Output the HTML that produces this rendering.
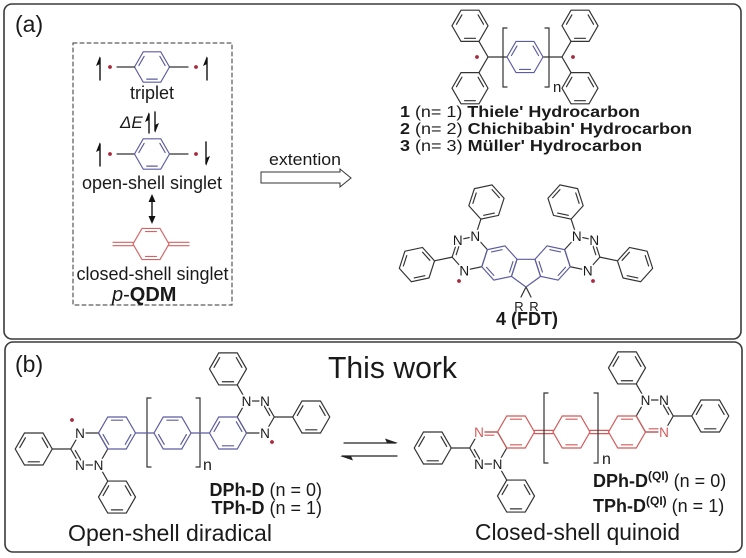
<!DOCTYPE html>
<html><head><meta charset="utf-8">
<style>
html,body{margin:0;padding:0;background:#fff}
svg{display:block}
text{font-family:"Liberation Sans",Arial,sans-serif;fill:#1a1a1a;stroke:none}
.N{font-size:13.5px;text-anchor:middle;stroke:#fff;stroke-width:3.5px;paint-order:stroke;stroke-linejoin:round}
.R{font-size:13px;text-anchor:middle;stroke:#fff;stroke-width:3px;paint-order:stroke;stroke-linejoin:round}
</style></head>
<body>
<svg width="746" height="558" viewBox="0 0 746 558" xmlns="http://www.w3.org/2000/svg">
<defs>
 <path id="hx" d="M18.5,0 L9.25,16.02 L-9.25,16.02 L-18.5,0 L-9.25,-16.02 L9.25,-16.02 Z"/>
 <path id="kA" d="M5.6,12.82 L-5.6,12.82 M-13.91,-1.54 L-8.29,-11.28 M8.29,-11.28 L13.91,-1.54"/>
 <path id="kB" d="M-5.6,-12.82 L5.6,-12.82 M13.91,1.54 L8.29,11.28 M-8.29,11.28 L-13.91,1.54"/>
 <path id="kQ" d="M-5.6,-12.82 L5.6,-12.82 M5.6,12.82 L-5.6,12.82"/>
 <g id="phA"><use href="#hx"/><use href="#kA"/></g>
 <g id="phB"><use href="#hx"/><use href="#kB"/></g>
 <g id="phQ"><use href="#hx"/><use href="#kQ"/></g>
 <g id="fh">
  <g transform="translate(469.75,253.37) rotate(-12) scale(0.973)" stroke="#333"><use href="#hx"/><path d="M-13.91,-1.54 L-8.29,-11.28"/></g>
  <use href="#phB" transform="translate(499.4,263) rotate(-12) scale(0.973)" stroke="#5c5ca0"/>
  <g stroke="#333">
   <line x1="475.31" y1="236.25" x2="480.87" y2="219.13"/>
   <use href="#phA" transform="translate(486.43,202.01) rotate(-12) scale(0.973)"/>
   <line x1="452.15" y1="257.11" x2="434.55" y2="260.85"/>
   <use href="#phA" transform="translate(416.94,264.6) rotate(-12) scale(0.973)"/>
   <line x1="526" y1="287" x2="521" y2="297"/>
  </g>
  <circle cx="459" cy="281" r="1.9" fill="#a8283c" stroke="none"/>
 </g>
</defs>

<g fill="none" stroke-width="1.2" stroke-linecap="round">

<!-- Panels -->
<rect x="4" y="4" width="737" height="335" rx="8" stroke="#3a3a3a" stroke-width="1.6"/>
<rect x="5" y="342" width="737" height="210" rx="8" stroke="#3a3a3a" stroke-width="1.6"/>

<!-- (a) dashed box -->
<rect x="73" y="43" width="159" height="262" stroke="#333" stroke-width="1" stroke-dasharray="4 3"/>

<!-- triplet / open-shell -->
<use href="#phA" transform="translate(152,67) scale(0.946)" stroke="#5c5ca0"/>
<g stroke="#333">
 <line x1="134.5" y1="67" x2="117" y2="67"/>
 <line x1="169.5" y1="67" x2="188" y2="67"/>
 <line x1="134.5" y1="154" x2="117" y2="154"/>
 <line x1="169.5" y1="154" x2="188" y2="154"/>
</g>
<use href="#phA" transform="translate(152,154) scale(0.946)" stroke="#5c5ca0"/>
<g fill="#a8283c" stroke="none">
 <circle cx="110" cy="67" r="1.9"/><circle cx="196" cy="67" r="1.9"/>
 <circle cx="110" cy="154" r="1.9"/><circle cx="196" cy="154" r="1.9"/>
</g>
<!-- spin arrows -->
<g stroke="#111" stroke-width="1.4">
 <line x1="100" y1="80" x2="100" y2="58"/>
 <line x1="207" y1="80" x2="207" y2="58"/>
 <line x1="149" y1="133" x2="149" y2="114"/>
 <line x1="155" y1="112" x2="155" y2="131"/>
 <line x1="100" y1="166" x2="100" y2="144"/>
 <line x1="206" y1="142" x2="206" y2="164"/>
 <line x1="152" y1="199" x2="152" y2="219"/>
</g>
<g fill="#111" stroke="none">
 <polygon points="100,56 96,66 100,64"/>
 <polygon points="207,56 203,66 207,64"/>
 <polygon points="149,112 145,122 149,120"/>
 <polygon points="155,133 159,123 155,125"/>
 <polygon points="100,142 96,152 100,150"/>
 <polygon points="206,166 210,156 206,158"/>
 <polygon points="152,194 148.5,202 155.5,202"/>
 <polygon points="152,224 148.5,216 155.5,216"/>
</g>
<!-- p-QDM -->
<use href="#phQ" transform="translate(151,244) scale(0.973)" stroke="#d46464"/>
<g stroke="#d46464">
 <line x1="133" y1="242.3" x2="113" y2="242.3"/><line x1="133" y1="245.7" x2="113" y2="245.7"/>
 <line x1="169" y1="242.3" x2="189" y2="242.3"/><line x1="169" y1="245.7" x2="189" y2="245.7"/>
</g>

<!-- extension arrow -->
<polygon points="261,172 340,172 340,169 351,178 340,187 340,183 261,183" stroke="#333" stroke-width="1" fill="#fff"/>

<!-- Thiele hydrocarbon -->
<g stroke="#333">
 <use href="#phA" transform="translate(470,25.8) scale(0.973)"/>
 <use href="#phA" transform="translate(470,88.2) scale(0.973)"/>
 <use href="#phA" transform="translate(580,25.8) scale(0.973)"/>
 <use href="#phA" transform="translate(580,88.2) scale(0.973)"/>
 <polyline points="479,41.4 488,57 479,72.6"/>
 <line x1="488" y1="57" x2="507" y2="57"/>
 <line x1="543" y1="57" x2="562" y2="57"/>
 <polyline points="571,41.4 562,57 571,72.6"/>
 <path d="M507,28 L503,28 L503,87 L507,87"/>
 <path d="M545,28 L549,28 L549,87 L545,87"/>
</g>
<use href="#phA" transform="translate(525,57) scale(0.973)" stroke="#5c5ca0"/>
<circle cx="477" cy="57" r="1.9" fill="#a8283c" stroke="none"/>
<circle cx="573" cy="57" r="1.9" fill="#a8283c" stroke="none"/>

<!-- FDT -->
<use href="#fh"/>
<use href="#fh" transform="translate(1052,0) scale(-1,1)"/>
<polygon points="517,259.3 535,259.3 540.56,276.38 526,286.96 511.44,276.38" stroke="#5c5ca0"/>

<!-- (b) left molecule -->
<g stroke="#333">
 <use href="#phA" transform="translate(33.75,449)"/>
 <line x1="52.25" y1="449" x2="70.75" y2="449"/>
 <g transform="translate(89.25,449)"><use href="#hx"/><path d="M-8.29,11.28 L-13.91,1.54"/></g>
 <g transform="translate(255.75,417)"><use href="#hx"/><path d="M8.29,-11.28 L13.91,-1.54"/></g>
 <line x1="246.5" y1="401" x2="237.25" y2="384.94"/>
 <use href="#phA" transform="translate(228,368.9)"/>
 <line x1="274.25" y1="417" x2="292.75" y2="417"/>
 <use href="#phA" transform="translate(311.25,417)"/>
 <line x1="98.5" y1="465" x2="107.75" y2="481.04"/>
 <use href="#phA" transform="translate(117,497.06)"/>
 <path d="M151,398 L147,398 L147,467 L151,467"/>
 <path d="M196,398 L200,398 L200,467 L196,467"/>
</g>
<g stroke="#5c5ca0">
 <use href="#phB" transform="translate(117,433)"/>
 <line x1="135.5" y1="433" x2="154" y2="433"/>
 <use href="#phB" transform="translate(172.5,433)"/>
 <line x1="191" y1="433" x2="209.5" y2="433"/>
 <use href="#phA" transform="translate(228,433)"/>
</g>
<circle cx="72" cy="420" r="1.9" fill="#a8283c" stroke="none"/>
<circle cx="272" cy="442" r="1.9" fill="#a8283c" stroke="none"/>

<!-- equilibrium arrows -->
<g stroke="#222" stroke-width="1.2">
 <line x1="344" y1="443" x2="396" y2="443"/>
 <line x1="342" y1="456" x2="397" y2="456"/>
</g>
<g fill="#222" stroke="none">
 <polygon points="398,443 385,438.5 387,443"/>
 <polygon points="340,456 353,460.5 351,456"/>
</g>

<!-- (b) right molecule -->
<g transform="translate(399,-1)">
 <g stroke="#333">
  <use href="#phA" transform="translate(33.75,449)"/>
  <line x1="52.25" y1="449" x2="70.75" y2="449"/>
  <g transform="translate(89.25,449)"><use href="#hx"/><path d="M-8.29,11.28 L-13.91,1.54"/></g>
  <g transform="translate(255.75,417)"><use href="#hx"/><path d="M8.29,-11.28 L13.91,-1.54"/></g>
  <line x1="246.5" y1="401" x2="237.25" y2="384.94"/>
  <use href="#phA" transform="translate(228,368.9)"/>
  <line x1="274.25" y1="417" x2="292.75" y2="417"/>
  <use href="#phA" transform="translate(311.25,417)"/>
  <line x1="98.5" y1="465" x2="107.75" y2="481.04"/>
  <use href="#phA" transform="translate(117,497.06)"/>
 </g>
 <g stroke="#d25a5a">
  <g transform="translate(89.25,449)"><path d="M-9.25,-16.02 L9.25,-16.02 M-5.6,-12.82 L5.6,-12.82"/></g>
  <g transform="translate(255.75,417)"><path d="M9.25,16.02 L-9.25,16.02 M5.6,12.82 L-5.6,12.82"/></g>
  <use href="#phQ" transform="translate(117,433)"/>
  <line x1="135.5" y1="431.4" x2="154" y2="431.4"/><line x1="135.5" y1="434.6" x2="154" y2="434.6"/>
  <use href="#phQ" transform="translate(172.5,433)"/>
  <line x1="191" y1="431.4" x2="209.5" y2="431.4"/><line x1="191" y1="434.6" x2="209.5" y2="434.6"/>
  <use href="#phQ" transform="translate(228,433)"/>
 </g>
</g>
<g stroke="#333">
 <path d="M548,393 L544,393 L544,463 L548,463"/>
 <path d="M594,393 L598,393 L598,463 L594,463"/>
</g>
</g>

<!-- TEXT -->
<text x="15" y="32" font-size="23">(a)</text>
<text x="15" y="372" font-size="23">(b)</text>

<text x="152" y="99" font-size="18" text-anchor="middle">triplet</text>
<text x="120" y="128" font-size="17" font-style="italic">ΔE</text>
<text x="152" y="189" font-size="18" text-anchor="middle">open-shell singlet</text>
<text x="152.5" y="280" font-size="18" text-anchor="middle">closed-shell singlet</text>
<text x="112" y="301" font-size="20"><tspan font-style="italic">p</tspan>-<tspan font-weight="bold">QDM</tspan></text>

<text x="269" y="165" font-size="17" textLength="72" lengthAdjust="spacingAndGlyphs">extention</text>

<text x="553" y="92" font-size="15">n</text>
<text x="400" y="117" font-size="16" textLength="240" lengthAdjust="spacingAndGlyphs"><tspan font-weight="bold">1</tspan> (n= 1) <tspan font-weight="bold">Thiele' Hydrocarbon</tspan></text>
<text x="400" y="134" font-size="16" textLength="292" lengthAdjust="spacingAndGlyphs"><tspan font-weight="bold">2</tspan> (n= 2) <tspan font-weight="bold">Chichibabin' Hydrocarbon</tspan></text>
<text x="400" y="151" font-size="16" textLength="242" lengthAdjust="spacingAndGlyphs"><tspan font-weight="bold">3</tspan> (n= 3) <tspan font-weight="bold">Müller' Hydrocarbon</tspan></text>

<!-- FDT labels -->
<text class="N" x="475.31" y="241">N</text>
<text class="N" x="457.71" y="244.8">N</text>
<text class="N" x="464.19" y="275.3">N</text>
<text class="N" x="576.69" y="241">N</text>
<text class="N" x="594.29" y="244.8">N</text>
<text class="N" x="587.81" y="275.3">N</text>
<text class="R" x="519" y="311">R</text>
<text class="R" x="534" y="311">R</text>
<text x="527" y="325" font-size="18" text-anchor="middle" font-weight="bold">4 (FDT)</text>

<!-- (b) labels -->
<text x="392.5" y="378" font-size="31" text-anchor="middle" textLength="129" lengthAdjust="spacingAndGlyphs">This work</text>

<text class="N" x="80" y="437.8">N</text>
<text class="N" x="80" y="469.8">N</text>
<text class="N" x="98.5" y="469.8">N</text>
<text class="N" x="246.5" y="405.8">N</text>
<text class="N" x="265" y="405.8">N</text>
<text class="N" x="265" y="437.8">N</text>
<text x="203" y="470" font-size="16">n</text>
<text x="322" y="496" font-size="18" text-anchor="end"><tspan font-weight="bold">DPh-D</tspan> (n = 0)</text>
<text x="322" y="514" font-size="18" text-anchor="end"><tspan font-weight="bold">TPh-D</tspan> (n = 1)</text>
<text x="68" y="541" font-size="23" textLength="204" lengthAdjust="spacingAndGlyphs">Open-shell diradical</text>

<text class="N" x="479" y="436.8" style="fill:#d25a5a">N</text>
<text class="N" x="479" y="468.8">N</text>
<text class="N" x="497.5" y="468.8">N</text>
<text class="N" x="645.5" y="404.8">N</text>
<text class="N" x="664" y="404.8">N</text>
<text class="N" x="664" y="436.8" style="fill:#d25a5a">N</text>
<text x="602" y="464" font-size="16">n</text>
<text x="593" y="487" font-size="18"><tspan font-weight="bold">DPh-D</tspan><tspan font-weight="bold" font-size="12" dy="-7">(QI)</tspan><tspan dy="7"> (n = 0)</tspan></text>
<text x="593" y="512" font-size="18"><tspan font-weight="bold">TPh-D</tspan><tspan font-weight="bold" font-size="12" dy="-7">(QI)</tspan><tspan dy="7"> (n = 1)</tspan></text>
<text x="475" y="540" font-size="23" textLength="205" lengthAdjust="spacingAndGlyphs">Closed-shell quinoid</text>
</svg>
</body></html>
